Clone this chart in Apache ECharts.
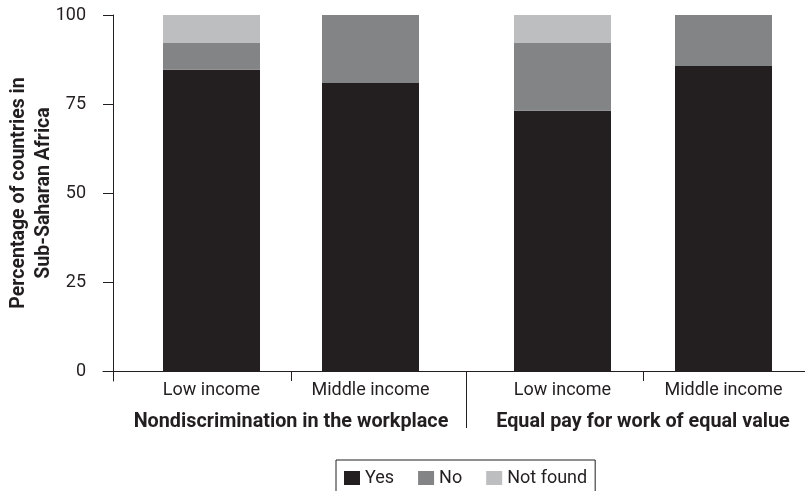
<!DOCTYPE html>
<html><head><meta charset="utf-8">
<script src="https://cdn.jsdelivr.net/npm/echarts@6/dist/echarts.min.js"></script>
<style>html,body{margin:0;padding:0;background:#fff}#c{width:805px;height:491px}</style>
</head><body><div id="c"></div>
<script>
// ---- data ----
const categories = ['Low income', 'Middle income'];
const groupTitles = ['Nondiscrimination in the workplace', 'Equal pay for work of equal value'];
const seriesNames = ['Yes', 'No', 'Not found'];
const nondiscYes = [84.6, 80.9];
const nondiscNo = [7.7, 19.1];
const nondiscNotFound = [7.7, 0];
const equalPayYes = [73.1, 85.7];
const equalPayNo = [19.2, 14.3];
const equalPayNotFound = [7.7, 0];
const yTicks = [0, 25, 50, 75, 100];
const yAxisTitle = 'Percentage of countries in\nSub-Saharan Africa';

// ---- style ----
const INK = '#231f20';
const colors = ['#231f20', '#838486', '#bdbec0'];
const FONT = 'Roboto';
const plotTop = 15, plotBottom = 371, stub = 10;
const yMin = -stub / (plotBottom - plotTop) * 100;

const chart = echarts.init(document.getElementById('c'), null, {renderer: 'canvas'});

const groupData = [
  [nondiscYes, nondiscNo, nondiscNotFound],
  [equalPayYes, equalPayNo, equalPayNotFound]
];

const series = [];
groupData.forEach((g, gi) => {
  g.forEach((vals, si) => {
    series.push({
      type: 'bar', name: seriesNames[si], stack: 'g' + gi,
      xAxisIndex: gi + 1, yAxisIndex: gi + 1,
      barWidth: 97, data: vals,
      itemStyle: {color: colors[si]},
      emphasis: {disabled: true}, silent: true
    });
  });
});

const catAxis = (gi) => ({
  type: 'category', gridIndex: gi + 1, data: categories,
  axisLine: {show: false}, axisTick: {show: false}, splitLine: {show: false},
  axisLabel: {fontFamily: FONT, fontSize: 18, color: INK, margin: 10},
  name: groupTitles[gi], nameLocation: 'middle', nameGap: 41,
  nameTextStyle: {fontFamily: FONT, fontSize: 19.8, fontWeight: 'bold', color: INK}
});

const option = {
  animation: false,
  grid: [
    {left: 103, right: 0, top: plotTop, height: plotBottom - plotTop + stub},
    {left: 132, top: plotTop, width: 318, height: plotBottom - plotTop},
    {left: 482, top: plotTop, width: 322, height: plotBottom - plotTop}
  ],
  xAxis: [
    {type: 'value', gridIndex: 0, min: -10, max: 692,
     axisLine: {show: true, onZero: true, lineStyle: {color: INK, width: 1}},
     axisTick: {show: false}, axisLabel: {show: false}, splitLine: {show: false}},
    catAxis(0), catAxis(1)
  ],
  yAxis: [
    {type: 'value', gridIndex: 0, min: yMin, max: 100,
     axisLine: {show: true, onZero: true, lineStyle: {color: INK, width: 1}},
     axisTick: {show: true, length: 10, customValues: yTicks, lineStyle: {color: INK}},
     axisLabel: {show: true, customValues: yTicks, margin: 17, fontFamily: FONT, fontSize: 18, color: INK},
     splitLine: {show: false}},
    {type: 'value', gridIndex: 1, min: 0, max: 100,
     axisLine: {show: false}, axisTick: {show: false}, axisLabel: {show: false}, splitLine: {show: false},
     name: yAxisTitle, nameLocation: 'middle', nameRotate: 90, nameGap: 75,
     nameTextStyle: {fontFamily: FONT, fontSize: 19.5, fontWeight: 'bold', color: INK, lineHeight: 25, align: 'center'}},
    {type: 'value', gridIndex: 2, min: 0, max: 100, show: false}
  ],
  legend: {
    data: seriesNames, left: 336, top: 460, orient: 'horizontal',
    icon: 'rect', itemWidth: 16, itemHeight: 14, itemGap: 24,
    padding: [9, 8, 9, 8], borderColor: INK, borderWidth: 1,
    textStyle: {fontFamily: FONT, fontSize: 18, color: INK},
    selectedMode: false
  },
  series: series
};
chart.setOption(option);

// separator ticks below the x axis, located through the category scales
const px = (axisIdx, v) => chart.convertToPixel({xAxisIndex: axisIdx}, v);
const y0 = Math.round(chart.convertToPixel({yAxisIndex: 1}, 0));
const b1 = (px(1, 0) + px(1, 1)) / 2;
const b2 = (px(2, 0) + px(2, 1)) / 2;
const band1 = px(1, 1) - px(1, 0);
const band2 = px(2, 1) - px(2, 0);
const sep = ((px(1, 1) + band1 / 2) + (px(2, 0) - band2 / 2)) / 2;
const vline = (x, len) => ({
  type: 'line', silent: true,
  shape: {x1: Math.round(x) + 0.5, y1: y0, x2: Math.round(x) + 0.5, y2: y0 + len},
  style: {stroke: INK, lineWidth: 1}
});
chart.setOption({graphic: [vline(b1, 10), vline(sep, 57), vline(b2, 10)]});
</script>
</body></html>
